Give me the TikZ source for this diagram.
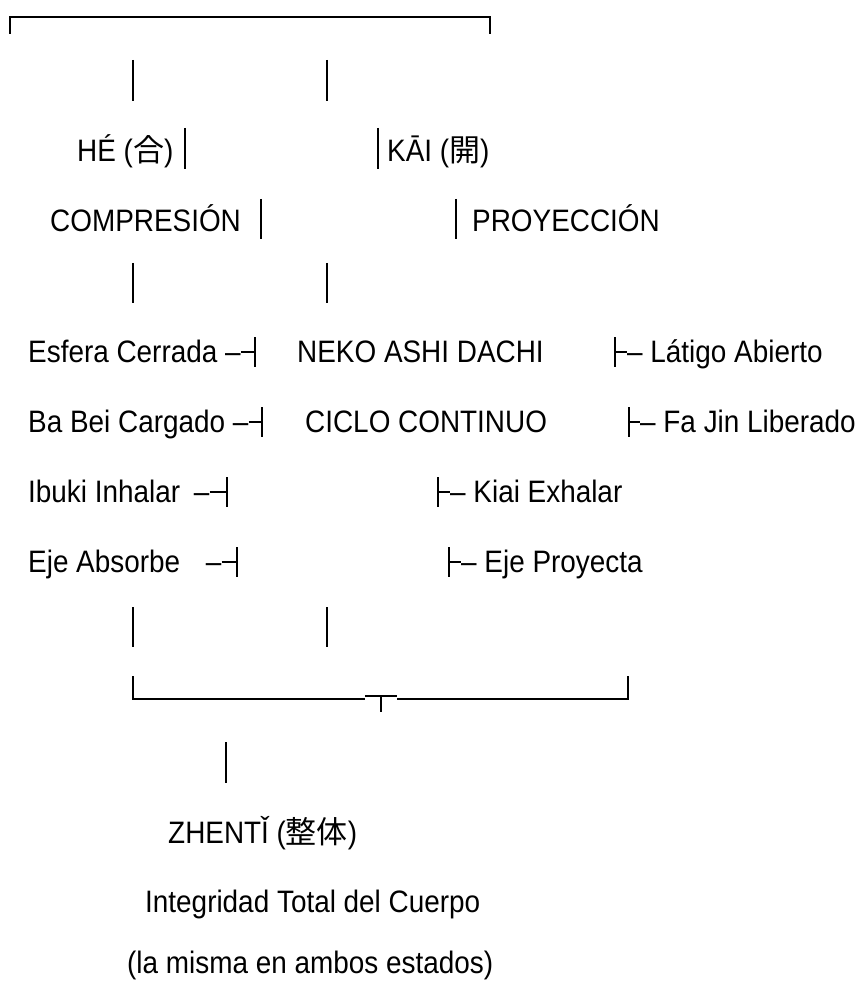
\documentclass[tikz,border=0pt]{standalone}
\usepackage{fontspec}
\setmainfont{Liberation Sans}
\newfontfamily\lbfont[FakeStretch=0.9]{Liberation Sans}
\newfontfamily\cjk{Noto Sans CJK JP}
\tikzset{
  txt/.style={anchor=base west, inner sep=0pt, font=\lbfont\fontsize{31}{37}\selectfont}, % all labels
  bar/.style={line width=2pt}, % the plain vertical strokes
  tee/.style={line width=1.5pt}, % brackets and tees
}

\begin{document}
\begin{tikzpicture}[x=1pt, y=-1pt]
  \useasboundingbox (0,0) rectangle (860,981);

  % top bracket
  \coordinate (topL) at (10,17);
  \coordinate (topR) at (490,17);
  \draw[tee] ([yshift=-17pt]topL) -- (topL) -- (topR) -- ([yshift=-17pt]topR);

  \draw[bar] (133,60) -- (133,101);
  \draw[bar] (327,60) -- (327,101);

  % the two states
  \node[txt] (he) at (77,162) {HÉ ({\cjk 合})};
  \node[txt] (kai) at (387,162) {KĀI ({\cjk 開})};
  \draw[bar] (185,128) -- (185,169);
  \draw[bar] (378,128) -- (378,169);

  \node[txt] (comp) at (50,232) {COMPRESIÓN};
  \node[txt] (proy) at (472,232) {PROYECCIÓN};
  \draw[bar] (261,199) -- (261,239);
  \draw[bar] (456,199) -- (456,239);

  \draw[bar] (133,263) -- (133,303);
  \draw[bar] (327,263) -- (327,303);

  % left column
  \node[txt] (esfera) at (28,362) {Esfera Cerrada –};
  \node[txt] (babei) at (28,432) {Ba Bei Cargado –};
  \node[txt] (ibuki) at (28,502) {Ibuki Inhalar\hspace{6pt} –};
  \node[txt] (ejeA) at (28,572) {Eje Absorbe\hspace{18pt} –};

  \coordinate (t1) at (255,352);
  \coordinate (t2) at (262,422);
  \coordinate (t3) at (227,492);
  \coordinate (t4) at (237,562);
  \foreach \n/\t in {esfera/t1, babei/t2, ibuki/t3, ejeA/t4}{
    \draw[tee] (\n.base east |- \t) -- (\t);
    \draw[tee] ([yshift=15pt]\t) -- ([yshift=-15pt]\t);
  }

  % middle
  \node[txt] (neko) at (297,362) {NEKO ASHI DACHI};
  \node[txt] (ciclo) at (305,432) {CICLO CONTINUO};

  % right column
  \coordinate (r1) at (615,352);
  \coordinate (r2) at (629,422);
  \coordinate (r3) at (438,492);
  \coordinate (r4) at (449,562);
  \node[txt] (latigo) at (627,362) {– Látigo Abierto};
  \node[txt] (fajin) at (640,432) {– Fa Jin Liberado};
  \node[txt] (kiai) at (450,502) {– Kiai Exhalar};
  \node[txt] (ejeP) at (461,572) {– Eje Proyecta};
  \foreach \n/\t in {latigo/r1, fajin/r2, kiai/r3, ejeP/r4}{
    \draw[tee] (\t) -- (\n.base west |- \t);
    \draw[tee] ([yshift=15pt]\t) -- ([yshift=-15pt]\t);
  }

  \draw[bar] (133,607) -- (133,647);
  \draw[bar] (327,607) -- (327,647);

  % bottom bracket
  \coordinate (botL) at (133,699);
  \coordinate (botR) at (628,699);
  \coordinate (join) at (381,696);
  \draw[tee] (133,676) -- (botL) -- (365,699);
  \draw[tee] (397,699) -- (botR) -- (628,676);
  \draw[tee] (365,696) -- (397,696);
  \draw[tee] (join) -- ([yshift=-16pt]join);

  \draw[bar] (226,742) -- (226,783);

  % result
  \node[txt] (zhenti) at (168,843) {ZHENTǏ ({\cjk 整体})};
  \node[txt] (integ) at (145,912) {Integridad Total del Cuerpo};
  \node[txt] (misma) at (127,973) {(la misma en ambos estados)};
\end{tikzpicture}
\end{document}
